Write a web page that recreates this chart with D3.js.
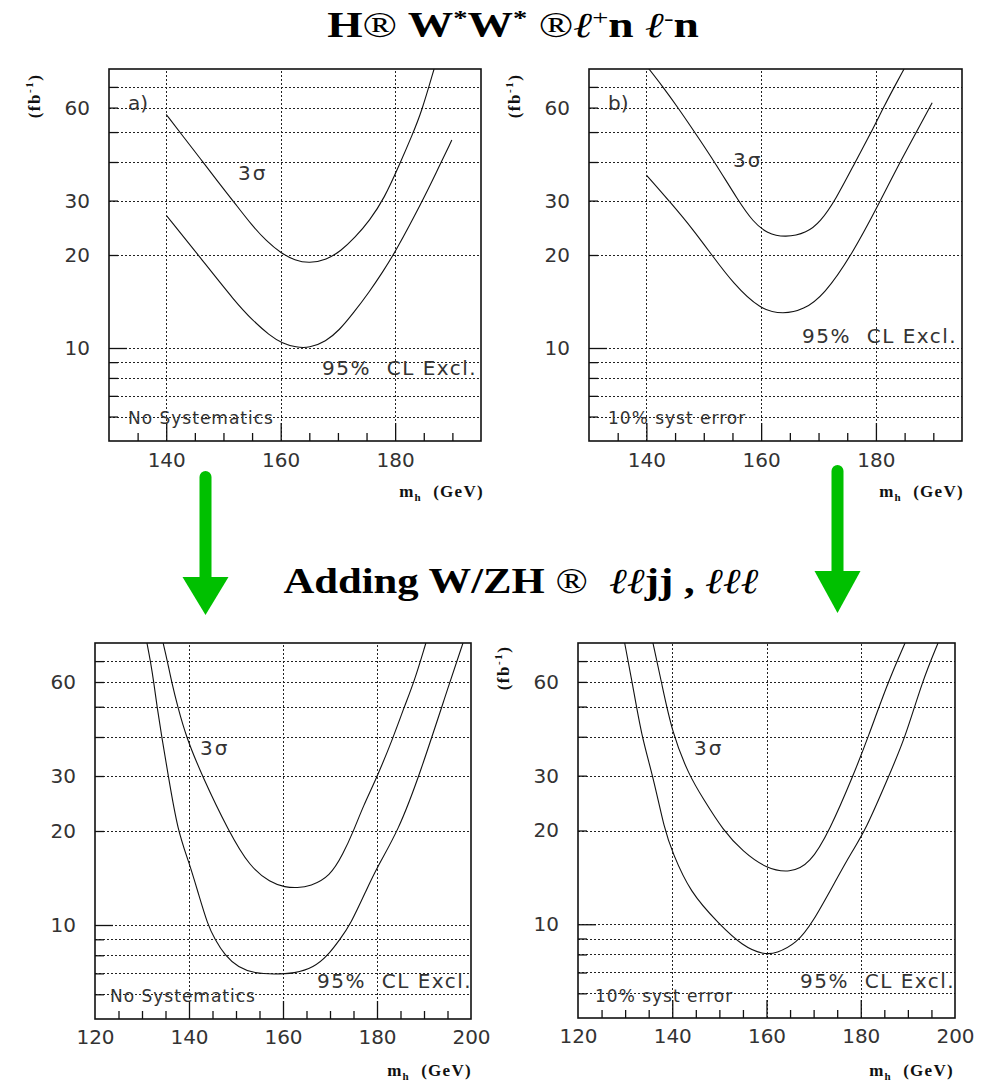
<!DOCTYPE html>
<html>
<head>
<meta charset="utf-8">
<script src="https://cdn.jsdelivr.net/npm/d3@7"></script>
<style>
body { margin: 0; background: #fff; }
svg text { white-space: pre; }
</style>
</head>
<body>
<svg id="fig" width="985" height="1084"></svg>
<script>
// values: [m_h (GeV), integrated luminosity (fb^-1)]
var a3sigma = [[140,57],[143,48.3],[146,40.9],[149,34.6],[152,29.4],[155,24.9],[157.5,22.2],[160,20.3],[162.5,19.2],[165,18.8],[168,19.3],[170.5,20.6],[173,22.8],[175.5,25.8],[178.1,30.5],[180.7,39],[183,49],[184.6,58],[186.8,80]];
var a95 = [[140,26.9],[145.6,20],[152.2,14.0],[155.1,12.3],[158,11.0],[160.3,10.35],[162.7,10.05],[165,10.0],[167.9,10.5],[170.2,11.4],[172.6,12.9],[175.5,15.2],[177.8,17.6],[180,20.4],[184.8,30],[187.1,36.7],[189.9,47.1]];

var b3sigma = [[140,82],[142.9,70],[145.5,60],[148.4,50],[151.9,40],[156,30],[158.6,25.6],[161,23.5],[164.2,22.75],[168,23.6],[170.3,25.6],[172.9,30],[176.4,40],[179.2,50],[181.3,60],[183.2,70],[184.9,80]];
var b95 = [[140,36.3],[144.2,29.6],[148.2,24.1],[151.4,20],[155.1,16.2],[159.8,13.3],[163.9,12.86],[167.4,13.3],[170.9,14.8],[175.8,20],[180.8,30],[184.2,40],[189.8,62.2]];

var c3sigma = [[134.5,80],[135.4,70],[136.3,60],[137.6,50],[139.4,40],[142.8,30],[148.4,20],[153,15.3],[157.3,13.7],[160.5,13.2],[163,13.15],[165.8,13.3],[170,14.3],[172.8,16.9],[175,20],[177.1,24.1],[179.9,29.5],[183.5,40],[185.8,50],[187.9,60],[190.4,80]];
var c95 = [[131.05,80],[131.8,70],[132.5,60],[133.2,50],[134.2,40],[135.6,30],[137.6,20],[140,15.9],[142,12.6],[144,10],[145.5,9],[147.6,8],[150.5,7.3],[154,7.0],[158,6.95],[162.5,7.0],[166.5,7.3],[169.6,8],[172.1,9],[174.3,10],[177.8,13],[180,15.3],[184.5,20],[189,30],[195.5,60],[198.3,80]];

var d3sigma = [[135.9,80],[137.7,60],[140,41],[143.6,30],[146.5,25.4],[150.8,20],[155,17.1],[159.9,15.1],[165,14.6],[169.2,15.6],[173.4,20],[178.4,30],[181.6,40],[185.8,60],[189.4,80]];
var d95 = [[129.9,80],[131.5,60],[133.5,40],[135.9,30],[138.4,20],[140,17.1],[143.7,12.7],[150,10],[155,8.5],[159.3,8.0],[162.1,8.05],[166.4,8.7],[169.6,10],[174.9,14],[178,17],[181,20],[186,30],[189.5,40],[193,60],[196.4,80]];

var yDomain = [5, 80];
var yGridValues = [6,7,8,9,10,20,30,40,50,60,70];
var yTickLabels = [10,20,30,60];
var xGridValues = [140,160,180];
var xLabelsTop = [140,160,180];
var xLabelsBottom = [120,140,160,180,200];

var svg = d3.select("#fig");
var serif = "'Liberation Serif','Times New Roman',serif";
var sans = "'DejaVu Sans',sans-serif";
var ink = "#111";

// text built from pieces (superscripts, subscripts, weight changes)
function richText(sel, parts) {
    var shift = 0;
    parts.forEach(function(p) {
        var s = p.shift || 0;
        var t = sel.append("tspan").attr("dy", s - shift).text(p.t);
        shift = s;
        if (p.normal) t.attr("font-weight", "normal");
        if (p.italic) t.attr("font-style", "italic");
        if (p.size) t.attr("font-size", p.size);
    });
}

function drawPanel(cfg) {
    var x = d3.scaleLinear().domain(cfg.xDomain).range([cfg.left, cfg.left + cfg.width]);
    var y = d3.scaleLog().domain(yDomain).range([cfg.top + cfg.height, cfg.top]);
    var bottom = cfg.top + cfg.height;
    var g = svg.append("g");

    var clipId = "clip" + cfg.name;
    g.append("clipPath").attr("id", clipId).append("rect")
        .attr("x", cfg.left).attr("y", cfg.top).attr("width", cfg.width).attr("height", cfg.height);

    // dotted grid
    g.append("g").attr("transform", "translate(" + cfg.left + ",0)")
        .call(d3.axisLeft(y).tickValues(yGridValues).tickSize(-cfg.width).tickFormat(""))
        .call(function(a) { a.select(".domain").remove(); })
        .selectAll("line").attr("stroke", "#222").attr("stroke-dasharray", "2,2").attr("shape-rendering", "crispEdges");
    g.append("g").attr("transform", "translate(0," + bottom + ")")
        .call(d3.axisBottom(x).tickValues(xGridValues).tickSize(-cfg.height).tickFormat(""))
        .call(function(a) { a.select(".domain").remove(); })
        .selectAll("line").attr("stroke", "#222").attr("stroke-dasharray", "2,2").attr("shape-rendering", "crispEdges");

    // inner ticks on the left edge
    g.append("g").attr("transform", "translate(" + cfg.left + ",0)")
        .call(d3.axisLeft(y).tickValues(yGridValues.filter(function(v) { return v != 10; })).tickSize(-9).tickFormat(""))
        .call(function(a) { a.select(".domain").remove(); })
        .selectAll("line").attr("stroke", ink).attr("stroke-width", 1.3);
    g.append("g").attr("transform", "translate(" + cfg.left + ",0)")
        .call(d3.axisLeft(y).tickValues([10]).tickSize(-18).tickFormat(""))
        .call(function(a) { a.select(".domain").remove(); })
        .selectAll("line").attr("stroke", ink).attr("stroke-width", 1.3);

    // inner ticks on the bottom edge
    var minor = d3.range(cfg.xDomain[0] + 5, cfg.xDomain[1], 5).filter(function(v) { return v % 20 != 0; });
    g.append("g").attr("transform", "translate(0," + bottom + ")")
        .call(d3.axisBottom(x).tickValues(minor).tickSize(-8).tickFormat(""))
        .call(function(a) { a.select(".domain").remove(); })
        .selectAll("line").attr("stroke", ink).attr("stroke-width", 1.3);
    g.append("g").attr("transform", "translate(0," + bottom + ")")
        .call(d3.axisBottom(x).tickValues(xGridValues).tickSize(-18).tickFormat(""))
        .call(function(a) { a.select(".domain").remove(); })
        .selectAll("line").attr("stroke", ink).attr("stroke-width", 1.3);

    // frame
    g.append("rect").attr("x", cfg.left).attr("y", cfg.top)
        .attr("width", cfg.width).attr("height", cfg.height)
        .attr("fill", "none").attr("stroke", ink).attr("stroke-width", 1.6);

    // curves
    var line = d3.line()
        .x(function(d) { return x(d[0]); })
        .y(function(d) { return y(d[1]); })
        .curve(d3.curveBasis);
    g.append("g").attr("clip-path", "url(#" + clipId + ")")
        .selectAll("path").data(cfg.curves).enter().append("path")
        .attr("d", line).attr("fill", "none").attr("stroke", ink).attr("stroke-width", 1.1);

    // tick labels
    var yl = g.append("g").attr("transform", "translate(" + cfg.left + ",0)")
        .call(d3.axisLeft(y).tickValues(yTickLabels).tickSize(0).tickPadding(19).tickFormat(d3.format("d")));
    yl.select(".domain").remove();
    yl.selectAll("text").attr("font-size", 20).attr("font-family", sans).attr("fill", "#333");
    var xl = g.append("g").attr("transform", "translate(0," + bottom + ")")
        .call(d3.axisBottom(x).tickValues(cfg.xLabels).tickSize(0).tickPadding(cfg.xPad).tickFormat(d3.format("d")));
    xl.select(".domain").remove();
    xl.selectAll("text").attr("font-size", 20).attr("font-family", sans).attr("fill", "#333");

    // annotations inside the frame
    cfg.notes.forEach(function(n) {
        g.append("text").attr("x", cfg.left + n.dx).attr("y", cfg.top + n.dy)
            .attr("font-family", sans).attr("font-size", n.size).attr("fill", "#333")
            .attr("letter-spacing", n.spacing || 0).text(n.text);
    });

    // axis titles
    var xt = g.append("text").attr("x", cfg.left + cfg.width + cfg.xTitleShift).attr("y", cfg.xTitleY)
        .attr("text-anchor", "end").attr("font-family", serif).attr("font-weight", "bold")
        .attr("font-size", 17).attr("letter-spacing", 1.3).attr("fill", ink);
    richText(xt, [{t: "m"}, {t: "h", size: 11, shift: 4}, {t: "  (GeV)"}]);

    if (cfg.yTitle) {
        var yt = g.append("text")
            .attr("transform", "translate(" + cfg.yTitle[0] + "," + cfg.yTitle[1] + ") rotate(-90)")
            .attr("text-anchor", "middle").attr("font-family", serif).attr("font-weight", "bold")
            .attr("font-size", 17).attr("letter-spacing", 1.5).attr("fill", ink);
        richText(yt, [{t: "(fb"}, {t: "-1", size: 11, shift: -7}, {t: ")"}]);
    }
}

var panels = [
    {name: "a", left: 109, top: 69, width: 372, height: 372, xDomain: [130, 195],
     xLabels: xLabelsTop, xPad: 12, xTitleY: 497, xTitleShift: 3, yTitle: [40, 96],
     curves: [a3sigma, a95],
     notes: [{text: "a)", dx: 19, dy: 41, size: 20},
             {text: "3\u03c3", dx: 129, dy: 111, size: 20, spacing: 2},
             {text: "95%  CL Excl.", dx: 213, dy: 306, size: 20, spacing: 1.5},
             {text: "No Systematics", dx: 19, dy: 355, size: 17, spacing: 1}]},
    {name: "b", left: 589, top: 69, width: 373, height: 372, xDomain: [130, 195],
     xLabels: xLabelsTop, xPad: 12, xTitleY: 497, xTitleShift: 2, yTitle: [520, 96],
     curves: [b3sigma, b95],
     notes: [{text: "b)", dx: 19, dy: 41, size: 20},
             {text: "3\u03c3", dx: 144, dy: 98, size: 20, spacing: 2},
             {text: "95%  CL Excl.", dx: 213, dy: 274, size: 20, spacing: 1.5},
             {text: "10% syst error", dx: 19, dy: 355, size: 17, spacing: 1}]},
    {name: "c", left: 95, top: 643, width: 376, height: 376, xDomain: [120, 200],
     xLabels: xLabelsBottom, xPad: 10.5, xTitleY: 1076, xTitleShift: 1, yTitle: null,
     curves: [c3sigma, c95],
     notes: [{text: "3\u03c3", dx: 105, dy: 112, size: 20, spacing: 2},
             {text: "95%  CL Excl.", dx: 222, dy: 345, size: 20, spacing: 1.5},
             {text: "No Systematics", dx: 15, dy: 359, size: 17, spacing: 1}]},
    {name: "d", left: 578, top: 643, width: 377, height: 375, xDomain: [120, 200],
     xLabels: xLabelsBottom, xPad: 10.5, xTitleY: 1076, xTitleShift: -1, yTitle: [509, 668],
     curves: [d3sigma, d95],
     notes: [{text: "3\u03c3", dx: 116, dy: 112, size: 20, spacing: 2},
             {text: "95%  CL Excl.", dx: 222, dy: 345, size: 20, spacing: 1.5},
             {text: "10% syst error", dx: 17, dy: 359, size: 17, spacing: 1}]}
];
panels.forEach(drawPanel);

// titles (the original lettering is stretched horizontally)
var t1 = svg.append("text").attr("transform", "translate(513,37) scale(1.3,1)").attr("text-anchor", "middle")
    .attr("font-family", serif).attr("font-weight", "bold").attr("font-size", 35).attr("fill", "#000");
richText(t1, [{t: "H"}, {t: "\u00ae", normal: true}, {t: " W"}, {t: "*", size: 22, shift: -12},
    {t: "W"}, {t: "*", size: 22, shift: -12}, {t: " "}, {t: "\u00ae", normal: true},
    {t: "\u2113", normal: true, italic: true}, {t: "+", normal: true, size: 22, shift: -12},
    {t: "n "}, {t: "\u2113", normal: true, italic: true}, {t: "-", normal: true, size: 22, shift: -12}, {t: "n"}]);

var t2 = svg.append("text").attr("transform", "translate(521,593) scale(1.22,1)").attr("text-anchor", "middle")
    .attr("font-family", serif).attr("font-weight", "bold").attr("font-size", 35).attr("fill", "#000");
richText(t2, [{t: "Adding W/ZH "}, {t: "\u00ae", normal: true}, {t: "  "},
    {t: "\u2113\u2113", normal: true, italic: true}, {t: "jj , "},
    {t: "\u2113\u2113\u2113", normal: true, italic: true}]);

// green arrows between the rows
var arrows = [{cx: 205.5, top: 471, base: 577, tip: 615}, {cx: 837.5, top: 465, base: 571, tip: 613}];
arrows.forEach(function(a) {
    svg.append("line").attr("x1", a.cx).attr("x2", a.cx).attr("y1", a.top + 6).attr("y2", a.base + 2)
        .attr("stroke", "#00c000").attr("stroke-width", 12).attr("stroke-linecap", "round");
    svg.append("path")
        .attr("d", "M" + (a.cx - 23) + "," + a.base + "L" + (a.cx + 23) + "," + a.base + "L" + a.cx + "," + a.tip + "Z")
        .attr("fill", "#00c000");
});
</script>
</body>
</html>
